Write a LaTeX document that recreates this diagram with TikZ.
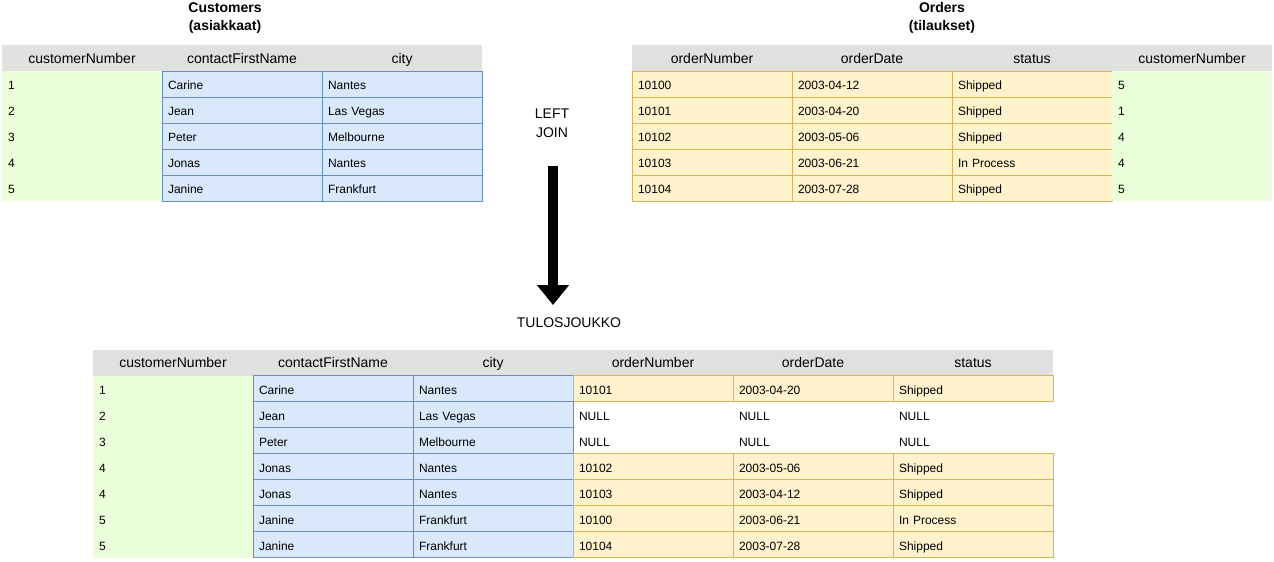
\documentclass[tikz,border=0pt]{standalone}
\usepackage{fontspec}
\setmainfont{Liberation Sans}
\usetikzlibrary{arrows.meta}
\definecolor{hdrgray}{HTML}{E0E0E0}
\definecolor{keygreen}{HTML}{EBFFDA}
\definecolor{blueF}{HTML}{DAE8FC}
\definecolor{blueS}{HTML}{6C8EBF}
\definecolor{orF}{HTML}{FFF2CC}
\definecolor{orS}{HTML}{D6B656}
\begin{document}
\begin{tikzpicture}[x=0.75pt,y=-0.75pt,
  every node/.style={inner sep=0pt, outer sep=0pt},
  hdr/.style={anchor=north west, minimum width=120pt, minimum height=19.5pt,
    text height=9pt, text depth=1.5pt,
    fill=hdrgray, align=center, font=\fontsize{10.5}{12}\selectfont},
  dat/.style={anchor=north west, minimum width=120pt, minimum height=19.5pt,
    text height=9.2pt, text depth=0.6pt,
    text width=111pt, inner xsep=4.5pt, align=left, font=\fontsize{9}{11}\selectfont},
  keycell/.style={dat, fill=keygreen},
  bluecell/.style={dat, fill=blueF, draw=blueS, line width=0.75pt},
  orcell/.style={dat, fill=orF, draw=orS, line width=0.75pt},
  nullcell/.style={dat},
  title/.style={align=center, font=\fontsize{10.5}{13.5}\selectfont\bfseries},
  label/.style={align=center, font=\fontsize{10.5}{14.25}\selectfont},
  bigarrow/.style={-{Triangle[length=15pt,width=23.25pt]}, line width=7.5pt, black}]

\useasboundingbox (0,0) rectangle (1274,561);

% ---------- Customers ----------
\node[title] (custTitle) at (225,18) {Customers\\(asiakkaat)};
\node[hdr] (cH1) at (2,45) {customerNumber};
\node[hdr] (cH2) at (162,45) {contactFirstName};
\node[hdr] (cH3) at (322,45) {city};
\foreach \i/\n/\who/\town in {1/1/Carine/Nantes, 2/2/Jean/Las Vegas,
    3/3/Peter/Melbourne, 4/4/Jonas/Nantes, 5/5/Janine/Frankfurt}{
  \node[keycell]  (c\i-1) at (2,{71+26*(\i-1)})   {\n};
  \node[bluecell] (c\i-2) at (162,{71+26*(\i-1)}) {\who};
  \node[bluecell] (c\i-3) at (322,{71+26*(\i-1)}) {\town};
}

% ---------- Orders ----------
\node[title] (ordTitle) at (942,18) {Orders\\(tilaukset)};
\node[hdr] (oH1) at (632,45) {orderNumber};
\node[hdr] (oH2) at (792,45) {orderDate};
\node[hdr] (oH3) at (952,45) {status};
\node[hdr] (oH4) at (1112,45) {customerNumber};
\foreach \i/\num/\date/\st/\cust in {1/10100/2003-04-12/Shipped/5,
    2/10101/2003-04-20/Shipped/1, 3/10102/2003-05-06/Shipped/4,
    4/10103/2003-06-21/In Process/4, 5/10104/2003-07-28/Shipped/5}{
  \node[orcell]  (o\i-1) at (632,{71+26*(\i-1)})  {\num};
  \node[orcell]  (o\i-2) at (792,{71+26*(\i-1)})  {\date};
  \node[orcell]  (o\i-3) at (952,{71+26*(\i-1)})  {\st};
  \node[keycell] (o\i-4) at (1112,{71+26*(\i-1)}) {\cust};
}

% ---------- join arrow ----------
\node[label] (joinLabel) at (552,123) {LEFT\\JOIN};
\coordinate (arrTop) at (553,166);
\coordinate (arrTip) at (553,305);
\draw[bigarrow] (arrTop) -- (arrTip);
\node[label] (resLabel) at (569,323) {TULOSJOUKKO};

% ---------- result set ----------
\node[hdr] (rH1) at (93,349.5)  {customerNumber};
\node[hdr] (rH2) at (253,349.5) {contactFirstName};
\node[hdr] (rH3) at (413,349.5) {city};
\node[hdr] (rH4) at (573,349.5) {orderNumber};
\node[hdr] (rH5) at (733,349.5) {orderDate};
\node[hdr] (rH6) at (893,349.5) {status};
\foreach \i/\n/\who/\town/\num/\date/\st/\sty in {
    1/1/Carine/Nantes/10101/2003-04-20/Shipped/orcell,
    2/2/Jean/Las Vegas/NULL/NULL/NULL/nullcell,
    3/3/Peter/Melbourne/NULL/NULL/NULL/nullcell,
    4/4/Jonas/Nantes/10102/2003-05-06/Shipped/orcell,
    5/4/Jonas/Nantes/10103/2003-04-12/Shipped/orcell,
    6/5/Janine/Frankfurt/10100/2003-06-21/In Process/orcell,
    7/5/Janine/Frankfurt/10104/2003-07-28/Shipped/orcell}{
  \node[keycell]  (r\i-1) at (93,{375.5+26*(\i-1)})  {\n};
  \node[bluecell] (r\i-2) at (253,{375.5+26*(\i-1)}) {\who};
  \node[bluecell] (r\i-3) at (413,{375.5+26*(\i-1)}) {\town};
  \node[\sty]     (r\i-4) at (573,{375.5+26*(\i-1)}) {\num};
  \node[\sty]     (r\i-5) at (733,{375.5+26*(\i-1)}) {\date};
  \node[\sty]     (r\i-6) at (893,{375.5+26*(\i-1)}) {\st};
}
\end{tikzpicture}
\end{document}
